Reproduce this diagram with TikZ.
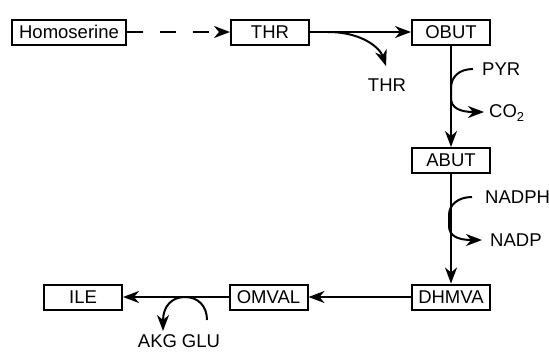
\documentclass[tikz,border=0pt]{standalone}
\usepackage{fontspec}
\setmainfont{Liberation Sans}
\usetikzlibrary{arrows.meta}
\begin{document}
\begin{tikzpicture}[x=1pt,y=-1pt,
  font=\fontsize{18.5}{20}\selectfont,
  box/.style={draw,line width=2pt,minimum width=78pt,minimum height=25pt,inner sep=0pt},
  lbl/.style={inner sep=0pt},
  conn/.style={line width=2pt},
  arr/.style={conn,-{Stealth[length=16pt,width=12pt,inset=5pt]}}]
\useasboundingbox (0,0) rectangle (549,351);
\node[box,minimum width=114pt] (hom) at (69,32) {Homoserine};
\node[box] (thr) at (270,32) {THR};
\node[box] (obut) at (451,32) {OBUT};
\node[box] (abut) at (451,160.5) {ABUT};
\node[box] (dhmva) at (451,297) {DHMVA};
\node[box] (omval) at (268.5,297) {OMVAL};
\node[box] (ile) at (83,297) {ILE};
\node[lbl] (thr2) at (387,85) {THR};
\node[lbl,anchor=west] (pyr) at (482,69) {PYR};
\node[lbl,anchor=west] (co2) at (489,113) {CO\textsubscript{2}};
\node[lbl,anchor=west] (nadph) at (485,197) {NADPH};
\node[lbl,anchor=west] (nadp) at (490,240) {NADP};
\node[lbl] (akg) at (157.5,341) {AKG};
\node[lbl] (glu) at (201,341) {GLU};
\coordinate (c1) at (328,32);
\coordinate (c1e) at (386,66);
\coordinate (p1) at (473,69);
\coordinate (p2) at (484,112);
\coordinate (n1) at (472,197);
\coordinate (n2) at (482,240);
\coordinate (g1) at (207,320);
\coordinate (g2) at (163,331);
\draw[arr,dash pattern=on 16pt off 17pt] (hom) -- (thr);
\draw[arr] (thr) -- (obut);
\draw[arr] (c1) .. controls (362,32) and (380,48) .. (c1e);
\draw[arr] (obut) -- (abut);
\draw[arr] (p1) .. controls (459,69) and (451,77) .. (451,88) -- (451,98) .. controls (451,108) and (460,112) .. (p2);
\draw[arr] (abut) -- (dhmva);
\draw[arr] (n1) .. controls (458,197) and (449,205) .. (449,215) -- (449,226) .. controls (449,236) and (458,240) .. (n2);
\draw[arr] (dhmva) -- (omval);
\draw[arr] (omval) -- (ile);
\draw[arr] (g1) .. controls (207,306) and (198,297) .. (185,297) .. controls (172,297) and (163,306) .. (g2);
\end{tikzpicture}
\end{document}
